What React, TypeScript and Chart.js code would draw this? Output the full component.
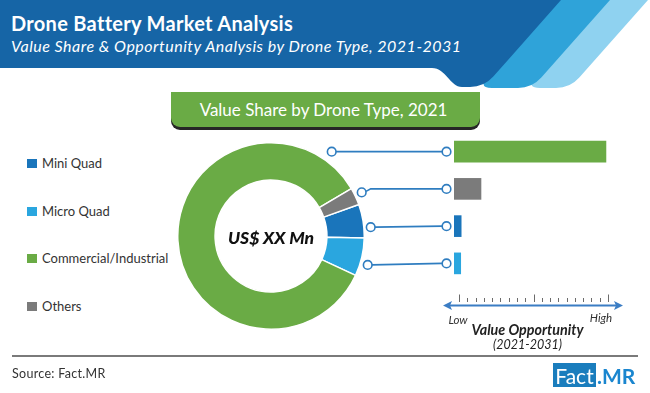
import React, { useEffect, useRef } from "react";
import { Chart, registerables } from "chart.js";

Chart.register(...registerables);

// ---------- data ----------
const shareLabels = ["Mini Quad", "Micro Quad", "Commercial/Industrial", "Others"];
const shareValues = [5.8, 6.6, 84.6, 3.0];
const shareColors = ["#1a75bb", "#2aa6df", "#6aab45", "#7b7b7b"];

const oppLabels = ["Commercial/Industrial", "Others", "Mini Quad", "Micro Quad"];
const oppValues = [97.4, 17.3, 4.6, 4.3];
const oppColors = ["#6aab45", "#7b7b7b", "#1a75bb", "#2aa6df"];

const titleText = "Drone Battery Market Analysis";
const subtitleText = "Value Share & Opportunity Analysis by Drone Type, 2021-2031";
const boxTitle = "Value Share by Drone Type, 2021";
const centerLabel = "US$ XX Mn";
const axisLow = "Low";
const axisHigh = "High";
const axisTitle = "Value Opportunity";
const axisPeriod = "(2021-2031)";
const sourceText = "Source: Fact.MR";

const FONT = "Lato, 'Open Sans', sans-serif";
const LINE_BLUE = "#2f7dc0";

function Txt(props: { x: number; y: number; align?: "left" | "center"; w?: number; style?: React.CSSProperties; children: React.ReactNode }) {
  const { x, y, align = "left", w = 500, style, children } = props;
  const left = align === "center" ? x - w / 2 : x;
  return (
    <div
      style={{
        position: "absolute",
        left,
        top: y - 15,
        height: 30,
        width: w,
        display: "flex",
        alignItems: "center",
        justifyContent: align === "center" ? "center" : "flex-start",
        whiteSpace: "nowrap",
        fontFamily: FONT,
        lineHeight: 1,
        ...style,
      }}
    >
      {children}
    </div>
  );
}

export default function App() {
  const donutRef = useRef<HTMLCanvasElement | null>(null);
  const barRef = useRef<HTMLCanvasElement | null>(null);

  useEffect(() => {
    document.body.style.margin = "0";
    const centerPlugin = {
      id: "centerText",
      afterDraw(chart: any) {
        const arc = chart.getDatasetMeta(0).data[0];
        if (!arc) return;
        const ctx = chart.ctx;
        ctx.save();
        ctx.font = `italic 900 17.5px ${FONT}`;
        ctx.fillStyle = "#111";
        ctx.textAlign = "center";
        ctx.textBaseline = "middle";
        ctx.fillText(centerLabel, arc.x, arc.y + 2);
        ctx.restore();
      },
    };

    const donut = new Chart(donutRef.current as HTMLCanvasElement, {
      type: "doughnut",
      data: {
        labels: shareLabels,
        datasets: [
          {
            data: shareValues,
            backgroundColor: shareColors,
            borderColor: "#ffffff",
            borderWidth: 1.5,
          },
        ],
      },
      options: {
        animation: false,
        responsive: false,
        rotation: 70.3,
        cutout: "60%",
        layout: { padding: 0 },
        plugins: { legend: { display: false }, tooltip: { enabled: false } },
      },
      plugins: [centerPlugin],
    } as any);

    // connector left ends (absolute page coords next to the donut)
    const leftX = [331.7, 361.7, 370.7, 367.7];
    const leftDy = [0, 3.5, 1, 1.5];
    const OFFX = 300;

    const connectorPlugin = {
      id: "connectors",
      afterDatasetsDraw(chart: any) {
        const ctx = chart.ctx;
        const area = chart.chartArea;
        const ys = chart.scales.y;
        const r = 4.3;
        ctx.save();
        ctx.strokeStyle = LINE_BLUE;
        ctx.lineWidth = 1.6;
        oppLabels.forEach((_, i) => {
          const y = ys.getPixelForValue(i);
          const rx = area.left - 7.5;
          const lx = leftX[i] - OFFX;
          const ly = y + leftDy[i];
          ctx.beginPath();
          if (leftDy[i] > 2) {
            ctx.moveTo(lx + r, ly - 1);
            ctx.lineTo(lx + 9, y);
          } else {
            ctx.moveTo(lx + r, ly);
          }
          ctx.lineTo(rx - r, y);
          ctx.stroke();
          [
            [lx, ly],
            [rx, y],
          ].forEach(([cx, cy]) => {
            ctx.beginPath();
            ctx.arc(cx, cy, r, 0, Math.PI * 2);
            ctx.fillStyle = "#fff";
            ctx.fill();
            ctx.stroke();
          });
        });
        ctx.restore();
      },
      afterDraw(chart: any) {
        const ctx = chart.ctx;
        const area = chart.chartArea;
        const y = area.bottom + 23.5;
        const x1 = area.left - 11;
        const x2 = area.left + 169;
        ctx.save();
        ctx.strokeStyle = "#3b7dc4";
        ctx.fillStyle = "#3b7dc4";
        ctx.lineWidth = 2;
        ctx.beginPath();
        ctx.moveTo(x1 + 5, y);
        ctx.lineTo(x2 - 5, y);
        ctx.stroke();
        ctx.beginPath();
        ctx.moveTo(x1, y);
        ctx.lineTo(x1 + 9, y - 4.5);
        ctx.lineTo(x1 + 7, y);
        ctx.lineTo(x1 + 9, y + 4.5);
        ctx.closePath();
        ctx.fill();
        ctx.beginPath();
        ctx.moveTo(x2, y);
        ctx.lineTo(x2 - 9, y - 4.5);
        ctx.lineTo(x2 - 7, y);
        ctx.lineTo(x2 - 9, y + 4.5);
        ctx.closePath();
        ctx.fill();
        const t0 = area.left + 5;
        const t1 = area.left + 154;
        const n = 19;
        ctx.strokeStyle = "#6b6b6b";
        ctx.lineWidth = 1;
        for (let k = 0; k < n; k++) {
          const tx = Math.round(t0 + ((t1 - t0) * k) / (n - 1)) + 0.5;
          const tall = k === 0 || k === 9 || k === n - 1;
          ctx.beginPath();
          ctx.moveTo(tx, tall ? y - 11 : y - 7.5);
          ctx.lineTo(tx, y - 3.5);
          ctx.stroke();
        }
        ctx.restore();
      },
    };

    const bars = new Chart(barRef.current as HTMLCanvasElement, {
      type: "bar",
      data: {
        labels: oppLabels,
        datasets: [
          {
            data: oppValues,
            backgroundColor: oppColors,
            borderWidth: 0,
            barThickness: 21,
          },
        ],
      },
      options: {
        indexAxis: "y",
        animation: false,
        responsive: false,
        layout: { padding: { left: 154, right: 40, top: 3, bottom: 48 } },
        scales: {
          x: { display: false, min: 0, max: 100 },
          y: { display: false },
        },
        plugins: { legend: { display: false }, tooltip: { enabled: false } },
      },
      plugins: [connectorPlugin],
    } as any);

    return () => {
      donut.destroy();
      bars.destroy();
    };
  }, []);

  const legendY = [163, 211, 258, 306];

  return (
    <div
      style={{
        position: "absolute",
        left: 0,
        top: 0,
        width: 650,
        height: 393,
        background: "#fff",
        overflow: "hidden",
        fontFamily: FONT,
      }}
    >
      <svg width={650} height={95} style={{ position: "absolute", left: 0, top: 0 }}>
        <path d="M 604 0 L 648 0 L 579.3 77.5 Q 570 88 556 88 L 540 88 Q 526 88 535.3 77.5 Z" fill="#8fd2f0" />
        <path d="M 556 0 L 610 0 L 541.3 77.5 Q 532 88 518 88 L 492 88 Q 478 88 487.3 77.5 Z" fill="#2fa3d9" />
        <path d="M 0 0 L 561 0 L 493.3 76.5 Q 484 87 470 87 L 462 87 C 450 87 446 68 432 68 L 0 68 Z" fill="#1665a6" />
      </svg>
      <Txt x={11} y={22.5} style={{ color: "#fff", fontWeight: 700, fontSize: 20, letterSpacing: 0.3 }}>
        {titleText}
      </Txt>
      <Txt x={11} y={45.5} style={{ color: "#fff", fontStyle: "italic", fontSize: 16, letterSpacing: 0.5 }}>
        {subtitleText}
      </Txt>

      <div
        style={{
          position: "absolute",
          left: 171,
          top: 92,
          width: 309,
          height: 35,
          background: "#6aab45",
          borderRadius: "0 0 9px 9px",
          boxShadow: "0 3px 0 #262626",
        }}
      />
      <Txt x={323.5} y={109} align="center" w={309} style={{ color: "#fff", fontSize: 17 }}>
        {boxTitle}
      </Txt>

      {shareLabels.map((lab, i) => (
        <React.Fragment key={lab}>
          <div
            style={{
              position: "absolute",
              left: 27,
              top: legendY[i] - 4.5,
              width: 9.5,
              height: 9.5,
              background: shareColors[i],
            }}
          />
          <Txt x={42} y={legendY[i]} style={{ color: "#333", fontSize: 13 }}>
            {lab}
          </Txt>
        </React.Fragment>
      ))}

      <canvas
        ref={donutRef}
        width={188}
        height={188}
        style={{ position: "absolute", left: 177, top: 142, width: 188, height: 188 }}
      />
      <canvas
        ref={barRef}
        width={350}
        height={200}
        style={{ position: "absolute", left: 300, top: 130, width: 350, height: 200 }}
      />

      <Txt x={458} y={320} align="center" w={40} style={{ color: "#333", fontStyle: "italic", fontSize: 11.5 }}>
        {axisLow}
      </Txt>
      <Txt x={601} y={318} align="center" w={40} style={{ color: "#333", fontStyle: "italic", fontSize: 11.5 }}>
        {axisHigh}
      </Txt>
      <Txt x={527.5} y={330} align="center" w={200} style={{ color: "#222", fontStyle: "italic", fontWeight: 700, fontSize: 14.3 }}>
        {axisTitle}
      </Txt>
      <Txt x={527.5} y={345.5} align="center" w={200} style={{ color: "#222", fontStyle: "italic", fontSize: 12.5 }}>
        {axisPeriod}
      </Txt>

      <div style={{ position: "absolute", left: 12, top: 355, width: 626, height: 1.5, background: "#7a7a7a" }} />
      <Txt x={12} y={374.5} style={{ color: "#333", fontSize: 12.5, letterSpacing: 0.3 }}>
        {sourceText}
      </Txt>

      <div
        style={{
          position: "absolute",
          left: 553,
          top: 363,
          width: 43,
          height: 24,
          background: "#1a7dbd",
        }}
      />
      <Txt x={574.5} y={375} align="center" w={43} style={{ color: "#fff", fontSize: 21 }}>
        Fact
      </Txt>
      <Txt x={597} y={375} style={{ color: "#1a86cf", fontSize: 21, fontWeight: 700 }}>
        .MR
      </Txt>
    </div>
  );
}
